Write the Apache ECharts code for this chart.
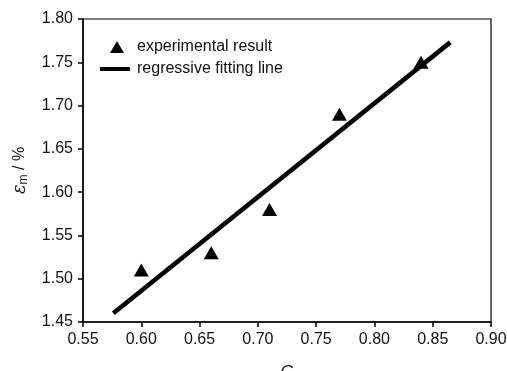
<!DOCTYPE html>
<html><head><meta charset="utf-8">
<script src="https://cdn.jsdelivr.net/npm/echarts@6/dist/echarts.min.js"></script>
<style>html,body{margin:0;padding:0;background:#fff}#c{width:507px;height:371px}</style>
</head><body><div id="c"></div>
<script>
const G_exp = [0.60, 0.66, 0.71, 0.77, 0.84];
const eps_exp = [1.51, 1.53, 1.58, 1.69, 1.75];
const G_fit = [0.576, 0.865];
const eps_fit = [1.460, 1.773];
const xTicks = [0.55, 0.60, 0.65, 0.70, 0.75, 0.80, 0.85, 0.90];
const yTicks = [1.45, 1.50, 1.55, 1.60, 1.65, 1.70, 1.75, 1.80];

const FONT = '"Liberation Sans", Arial, sans-serif';
const chart = echarts.init(document.getElementById('c'), null, {renderer: 'canvas'});
chart.setOption({
  animation: false,
  backgroundColor: '#fff',
  textStyle: {fontFamily: FONT},
  grid: {left: 83, right: 16, top: 19, bottom: 49, show: true, borderColor: '#000', borderWidth: 1.2,
         containLabel: false, outerBoundsMode: 'none'},
  legend: [
    {
      orient: 'vertical', left: 110, top: 39, padding: 0, itemWidth: 14, itemHeight: 12,
      textStyle: {fontFamily: FONT, fontSize: 16, color: '#111', padding: [0, 0, 0, 8]},
      data: [{name: 'experimental result', icon: 'triangle', itemStyle: {color: '#000', opacity: 1}}]
    },
    {
      orient: 'vertical', left: 100, top: 61, padding: 0, itemWidth: 30, itemHeight: 4,
      textStyle: {fontFamily: FONT, fontSize: 16, color: '#111', padding: [0, 0, 0, 2]},
      data: [{name: 'regressive fitting line', icon: 'rect', itemStyle: {color: '#000'}}]
    }
  ],
  xAxis: {
    type: 'value', min: 0.55, max: 0.90, interval: 0.05,
    name: 'G', nameLocation: 'middle', nameGap: 42,
    nameTextStyle: {fontFamily: FONT, fontSize: 17, fontStyle: 'italic', color: '#111'},
    axisLine: {lineStyle: {color: '#000', width: 1.5}},
    axisTick: {show: true, inside: false, length: 5, lineStyle: {color: '#000', width: 1.5}},
    axisLabel: {margin: 10, fontFamily: FONT, fontSize: 16, color: '#111',
      formatter: v => v.toFixed(2)},
    splitLine: {show: false}
  },
  yAxis: {
    type: 'value', min: 1.45, max: 1.80, interval: 0.05,
    name: '{e|ε}{s|m}{n| / %}', nameLocation: 'middle', nameGap: 53, nameRotate: 90,
    nameTextStyle: {
      rich: {
        e: {fontFamily: '"DejaVu Serif", serif', fontStyle: 'italic', fontSize: 18, color: '#111'},
        s: {fontFamily: FONT, fontSize: 12, color: '#111', verticalAlign: 'bottom', padding: [8, 0, 0, 0]},
        n: {fontFamily: FONT, fontSize: 16, color: '#111'}
      }
    },
    axisLine: {show: true, lineStyle: {color: '#000', width: 1.5}},
    axisTick: {show: true, inside: false, length: 5, lineStyle: {color: '#000', width: 1.5}},
    axisLabel: {margin: 10, fontFamily: FONT, fontSize: 16, color: '#111',
      formatter: v => v.toFixed(2)},
    splitLine: {show: false}
  },
  series: [
    {
      name: 'experimental result', type: 'scatter', symbol: 'triangle', symbolSize: [15, 13],
      itemStyle: {color: '#000', opacity: 1},
      data: G_exp.map((g, i) => [g, eps_exp[i]]), z: 3
    },
    {
      name: 'regressive fitting line', type: 'line', symbol: 'none', showSymbol: false,
      lineStyle: {color: '#000', width: 4.5}, itemStyle: {color: '#000'},
      data: G_fit.map((g, i) => [g, eps_fit[i]]), z: 2
    }
  ]
});
</script></body></html>
